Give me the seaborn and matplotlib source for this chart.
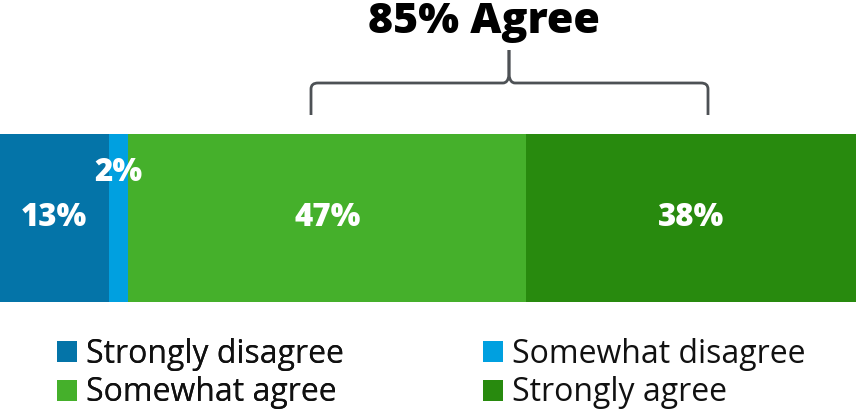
import matplotlib
matplotlib.use("Agg")
import matplotlib.pyplot as plt
import seaborn as sns
import numpy as np
import pandas as pd
from matplotlib.patches import Patch
from matplotlib.path import Path
from matplotlib.patches import PathPatch

categories = ["Strongly disagree", "Somewhat disagree", "Somewhat agree", "Strongly agree"]
values = [12.7, 2.3, 46.5, 38.5]
value_labels = ["13%", "2%", "47%", "38%"]
colors = ["#0474a8", "#00a0e0", "#45b02b", "#288a0e"]
title_text = "85% Agree"

sns.set_theme(style="white")
plt.rcParams["font.family"] = ["Open Sans", "DejaVu Sans"]

W, H = 856, 411
fig = plt.figure(figsize=(W / 100, H / 100), dpi=100)

# bar axes (pixel box: y 134..302)
ax = fig.add_axes([0, 1 - 302 / H, 1, (302 - 134) / H])
cum = np.cumsum(values)
for i in range(len(categories) - 1, -1, -1):
    sns.barplot(x=[cum[i]], y=["all"], color=colors[i], width=1.0, ax=ax,
                saturation=1, edgecolor="none", linewidth=0, orient="h")
ax.set_xlim(0, cum[-1])
ax.set_ylim(0.5, -0.5)
ax.axis("off")

starts = cum - np.array(values)
for i, lab in enumerate(value_labels):
    xc = starts[i] + values[i] / 2
    yc = 0.0
    if values[i] < 5:
        yc = -0.27
    ax.text(xc, yc, lab, ha="center", va="center", color="white",
            fontsize=22.5, fontweight="heavy")

# overlay axes in pixel coordinates for brace and title
ov = fig.add_axes([0, 0, 1, 1], facecolor="none")
ov.set_xlim(0, W)
ov.set_ylim(H, 0)
ov.axis("off")

xl, xr, xm = 311, 708, 509
yb, yh, yt = 115, 83, 50
verts = [
    (xl, yb), (xl, yh + 6), (xl, yh), (xl + 7, yh),
    (xm - 6, yh), (xm - 1, yh), (xm, yh - 8), (xm, yt),
]
codes = [Path.MOVETO, Path.LINETO, Path.CURVE3, Path.CURVE3,
         Path.LINETO, Path.CURVE3, Path.CURVE3, Path.LINETO]
verts2 = [
    (xr, yb), (xr, yh + 6), (xr, yh), (xr - 7, yh),
    (xm + 6, yh), (xm + 1, yh), (xm, yh - 8), (xm, yt),
]
for v in (verts, verts2):
    ov.add_patch(PathPatch(Path(v, codes), facecolor="none", edgecolor="#4d5155",
                           linewidth=2, capstyle="butt", joinstyle="round"))

ov.text(484, 22, title_text, ha="center", va="center", fontsize=31,
        fontweight="heavy", color="black")

# legends, two columns
def make_legend(items, x_px):
    handles = [Patch(facecolor=colors[i], edgecolor="none", label=categories[i]) for i in items]
    leg = fig.legend(handles=handles, loc="upper left",
                     bbox_to_anchor=(x_px / W, 1 - 338 / H),
                     frameon=False, fontsize=23, handlelength=0.63, handleheight=0.63,
                     handletextpad=0.28, labelspacing=0.17, borderpad=0, borderaxespad=0)
    for t in leg.get_texts():
        t.set_color("#111111")
    return leg

l1 = make_legend([0, 2], 57)
l2 = make_legend([1, 3], 483)
fig.add_artist(l1)

fig.savefig("out.png", dpi=100)
